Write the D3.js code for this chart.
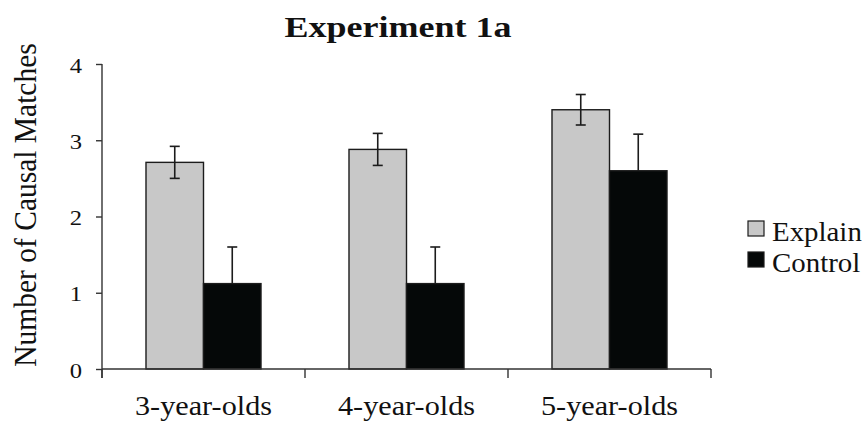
<!DOCTYPE html>
<html>
<head>
<meta charset="utf-8">
<script src="https://cdn.jsdelivr.net/npm/d3@7/dist/d3.min.js"></script>
<style>
  html, body { margin: 0; padding: 0; background: #fff; }
  svg { display: block; }
</style>
</head>
<body>
<svg id="chart" width="868" height="421"></svg>
<script>
// Mean number of causal matches by age group and condition, with standard errors
const ageGroups = ["3-year-olds", "4-year-olds", "5-year-olds"];
const conditions = ["Explain", "Control"];
const explainMeans = [2.71, 2.88, 3.40];
const controlMeans = [1.12, 1.12, 2.60];
const explainSE = [0.21, 0.21, 0.20];
const controlSE = [0.48, 0.48, 0.48];
const yTicks = [0, 1, 2, 3, 4];

const colors = { Explain: "#c8c8c8", Control: "#050808" };
const serif = "'Liberation Serif', 'Times New Roman', Times, 'DejaVu Serif', serif";
const textStretch = 1.12; // wide serif lettering

const rows = ageGroups.map((g, i) => ({
  group: g,
  bars: [
    { cond: "Explain", value: explainMeans[i], se: explainSE[i] },
    { cond: "Control", value: controlMeans[i], se: controlSE[i] }
  ]
}));

const svg = d3.select("#chart")
  .attr("font-family", serif)
  .style("font-family", serif);
const plot = { left: 102, right: 711, top: 64, bottom: 369 };

const x0 = d3.scaleBand().domain(ageGroups).range([plot.left, plot.right]).padding(0);
const x1 = d3.scaleBand().domain(conditions).range([0, x0.bandwidth()])
  .paddingInner(0).paddingOuter(0.765);
const y = d3.scaleLinear().domain([0, 4]).range([plot.bottom, plot.top]);

// Bars
const groups = svg.append("g").selectAll("g").data(rows).join("g")
  .attr("transform", d => `translate(${x0(d.group)},0)`);

groups.selectAll("rect").data(d => d.bars).join("rect")
  .attr("x", d => x1(d.cond))
  .attr("y", d => y(d.value))
  .attr("width", x1.bandwidth())
  .attr("height", d => y(0) - y(d.value))
  .attr("fill", d => colors[d.cond])
  .attr("stroke", "#1c1c1c")
  .attr("stroke-width", 1.4);

// Error bars: the lower whisker is only visible over the light bars
const capHalf = 5;
const showLower = d => d.cond === "Explain";
const err = groups.selectAll("g.err").data(d => d.bars).join("g").attr("class", "err")
  .attr("transform", d => `translate(${x1(d.cond) + x1.bandwidth() / 2},0)`)
  .attr("stroke", "#1c1c1c").attr("stroke-width", 1.6);
err.append("line")
  .attr("y1", d => y(d.value + d.se))
  .attr("y2", d => showLower(d) ? y(d.value - d.se) : y(d.value));
err.append("line")
  .attr("x1", -capHalf).attr("x2", capHalf)
  .attr("y1", d => y(d.value + d.se)).attr("y2", d => y(d.value + d.se));
err.filter(showLower).append("line")
  .attr("x1", -capHalf).attr("x2", capHalf)
  .attr("y1", d => y(d.value - d.se)).attr("y2", d => y(d.value - d.se));

// Y axis
const yAxis = svg.append("g")
  .attr("transform", `translate(${plot.left},0)`)
  .call(d3.axisLeft(y).tickValues(yTicks).tickFormat(d3.format("d")).tickSize(6).tickSizeOuter(0));
yAxis.attr("font-family", serif);
yAxis.select(".domain").attr("stroke", "#333").attr("stroke-width", 1.4)
  .attr("d", `M0,${plot.top}H0V${plot.bottom + 9}`);
yAxis.selectAll(".tick line").attr("stroke", "#333").attr("stroke-width", 1.4);
yAxis.selectAll(".tick text")
  .attr("font-size", 22)
  .attr("fill", "#111")
  .attr("x", 0)
  .attr("dy", null)
  .attr("text-anchor", "end")
  .attr("transform", `translate(-20,8) scale(${textStretch},1)`);

// X axis with ticks at category boundaries
const xAxis = svg.append("g").attr("transform", `translate(0,${plot.bottom})`);
xAxis.append("line")
  .attr("x1", plot.left).attr("x2", plot.right)
  .attr("stroke", "#333").attr("stroke-width", 1.4);
const boundaries = ageGroups.map(g => x0(g)).concat([x0(ageGroups[ageGroups.length - 1]) + x0.bandwidth()]);
xAxis.selectAll("line.tick").data(boundaries).join("line").attr("class", "tick")
  .attr("x1", d => d).attr("x2", d => d).attr("y1", 0).attr("y2", 9)
  .attr("stroke", "#333").attr("stroke-width", 1.4);
xAxis.selectAll("text").data(ageGroups).join("text")
  .attr("text-anchor", "middle")
  .attr("font-size", 27)
  .attr("fill", "#111")
  .attr("transform", d => `translate(${x0(d) + x0.bandwidth() / 2},46) scale(${textStretch},1)`)
  .text(d => d);

// Title
svg.append("text")
  .attr("text-anchor", "middle")
  .attr("font-size", 30)
  .attr("font-weight", "bold")
  .attr("fill", "#111")
  .attr("transform", `translate(398,37) scale(1.2,1)`)
  .text("Experiment 1a");

// Y axis label
svg.append("text")
  .attr("text-anchor", "middle")
  .attr("font-size", 29.5)
  .attr("fill", "#111")
  .attr("transform", `translate(36,205) scale(1.1,1) rotate(-90)`)
  .text("Number of Causal Matches");

// Legend
const legend = svg.append("g").selectAll("g").data(conditions).join("g")
  .attr("transform", (d, i) => `translate(748,${221 + i * 31})`);
legend.append("rect")
  .attr("width", 16).attr("height", 15)
  .attr("fill", d => colors[d])
  .attr("stroke", "#1c1c1c").attr("stroke-width", 1.2);
legend.append("text")
  .attr("font-size", 27)
  .attr("fill", "#111")
  .attr("transform", `translate(24,20) scale(1.07,1)`)
  .text(d => d);
</script>
</body>
</html>
